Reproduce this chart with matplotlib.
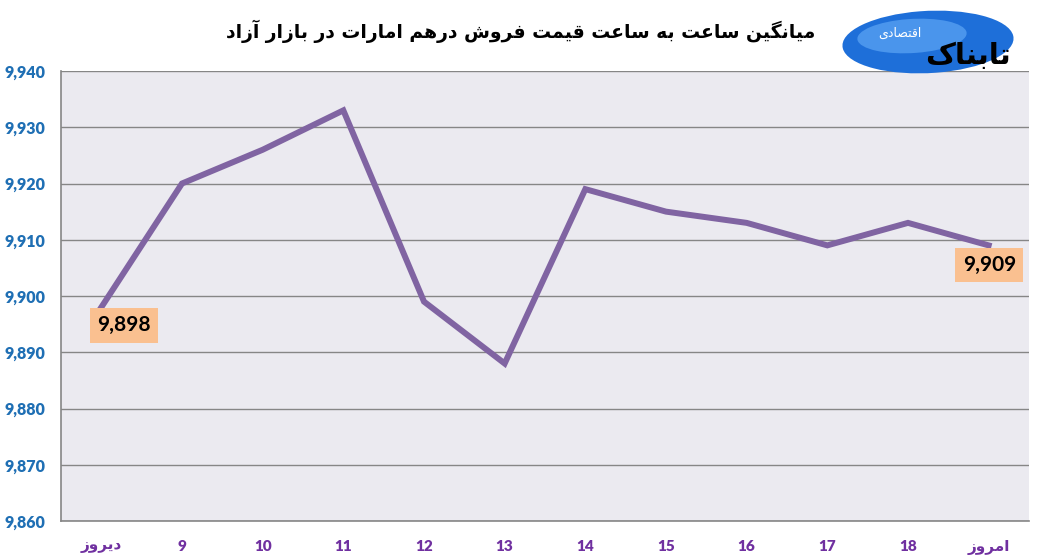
import unicodedata
import matplotlib
matplotlib.use("Agg")
import matplotlib.pyplot as plt
from matplotlib.patches import Ellipse
from matplotlib.ticker import FuncFormatter

plt.rcParams['font.family'] = ['Lato', 'DejaVu Sans']


def shape(s):
    """Minimal Arabic/Persian shaping into presentation forms + visual (RTL) order."""
    def forms(c):
        try:
            name = unicodedata.name(c)
        except ValueError:
            return None
        if not name.startswith('ARABIC LETTER'):
            return None
        d = {}
        for f in ('ISOLATED', 'FINAL', 'INITIAL', 'MEDIAL'):
            try:
                d[f] = unicodedata.lookup(name + ' ' + f + ' FORM')
            except KeyError:
                pass
        return d
    chars = list(s)
    fs = [forms(c) for c in chars]
    if not any(fs):
        return s
    out = []
    for i, c in enumerate(chars):
        f = fs[i]
        if not f:
            out.append(c)
            continue
        prev = fs[i - 1] if i > 0 else None
        nxt = fs[i + 1] if i + 1 < len(chars) else None
        pj = bool(prev) and 'INITIAL' in prev and 'FINAL' in f
        nj = 'INITIAL' in f and bool(nxt) and 'FINAL' in nxt
        if pj and nj:
            key = 'MEDIAL'
        elif pj:
            key = 'FINAL'
        elif nj:
            key = 'INITIAL'
        else:
            key = 'ISOLATED'
        out.append(f.get(key, f.get('ISOLATED', c)))
    return ''.join(reversed(out))


# ---- data ----
title = "میانگین ساعت به ساعت قیمت فروش درهم امارات در بازار آزاد"
categories = ["دیروز", "9", "10", "11", "12", "13", "14", "15", "16", "17", "18", "امروز"]
values = [9898, 9920, 9926, 9933, 9899, 9888, 9919, 9915, 9913, 9909, 9913, 9909]
y_ticks = [9860, 9870, 9880, 9890, 9900, 9910, 9920, 9930, 9940]
labelled_idx = [0, 11]

W, H = 1038, 559
fig = plt.figure(figsize=(W / 100, H / 100), dpi=100)
ax = fig.add_axes([61 / W, 1 - 521 / H, (1029 - 61) / W, (521 - 71) / H])
ax.set_facecolor('#EBEAF0')

x = list(range(len(categories)))
ax.plot(x, values, color='#8064A2', lw=4.3, solid_joinstyle='miter', zorder=3)

ax.set_xlim(-0.5, len(categories) - 0.5)
ax.set_ylim(y_ticks[0], y_ticks[-1])
ax.set_yticks(y_ticks)
ax.yaxis.set_major_formatter(FuncFormatter(lambda v, p: f"{int(v):,}"))
ax.set_xticks(x)
ax.set_xticklabels([shape(c) for c in categories])

ax.grid(axis='y', color='#868686', lw=1)
ax.set_axisbelow(True)
for s in ('top', 'right'):
    ax.spines[s].set_visible(False)
for s in ('left', 'bottom'):
    ax.spines[s].set_color('#868686')
    ax.spines[s].set_linewidth(1.2)

ax.tick_params(axis='y', length=0, pad=11.5, labelsize=11.5, labelcolor='#1F6FB4')
ax.tick_params(axis='x', length=0, pad=13.5, labelsize=11, labelcolor='#7030A0')
for lab in ax.get_yticklabels() + ax.get_xticklabels():
    lab.set_fontweight('heavy')

offsets = {0: (16.5, -13), 11: (0.5, -14)}
for i in labelled_idx:
    ax.annotate(f"{values[i]:,}", (x[i], values[i]), xytext=offsets[i],
                textcoords='offset points', ha='center', va='center',
                fontsize=15, fontweight='bold', color='black',
                bbox=dict(boxstyle='square,pad=0.35', fc='#FAC090', ec='none'),
                zorder=5)

fig.text(521 / W, 1 - 31 / H, shape(title), ha='center', va='center',
         fontsize=13.5, fontweight='bold', color='black', family=['DejaVu Sans'])

# logo approximation
logo = Ellipse((928 / W, 1 - 42 / H), 172 / W, 62 / H, angle=8,
               transform=fig.transFigure, fc='#1E6FD9', ec='none', zorder=1)
fig.patches.append(logo)
inner = Ellipse((912 / W, 1 - 36 / H), 110 / W, 34 / H, angle=8,
                transform=fig.transFigure, fc='#4A95EC', ec='none', zorder=1)
fig.patches.append(inner)
fig.text(968 / W, 1 - 56 / H, shape("تابناک"), ha='center', va='center',
         fontsize=21, fontweight='bold', color='black', family=['DejaVu Sans'],
         zorder=2)
fig.text(900 / W, 1 - 33 / H, shape("اقتصادی"), ha='center', va='center',
         fontsize=9, color='white', family=['DejaVu Sans'], zorder=2)

fig.savefig('out.png', dpi=100)
